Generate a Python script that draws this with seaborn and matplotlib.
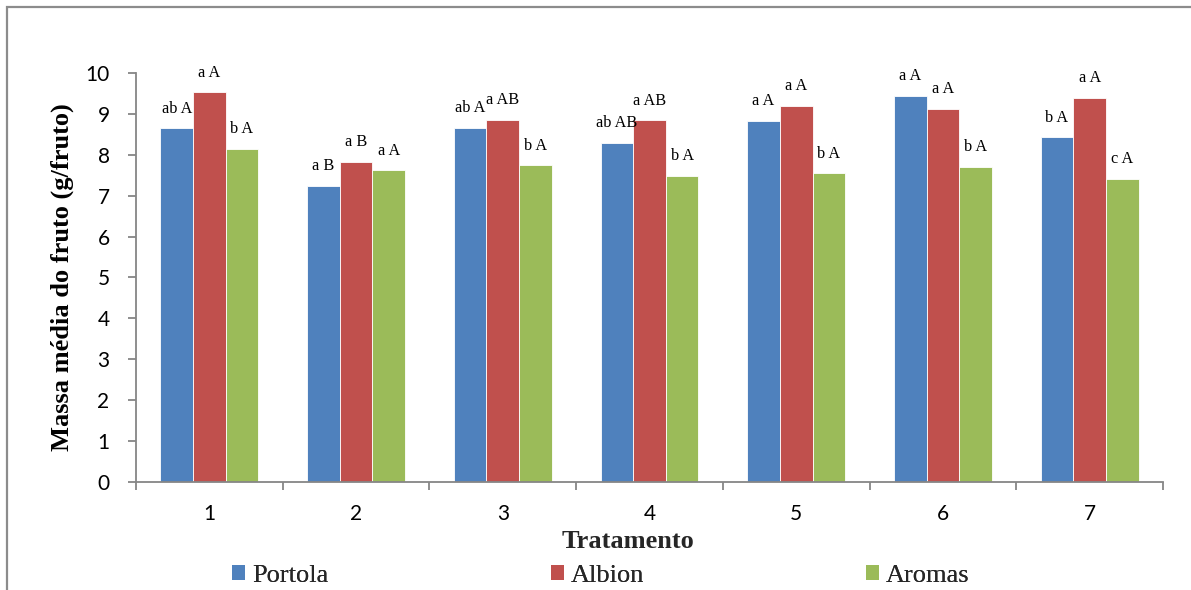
import numpy as np
import pandas as pd
import matplotlib
matplotlib.use("Agg")
import matplotlib.pyplot as plt
from matplotlib.patches import Rectangle
import seaborn as sns

# Average fruit mass (g/fruit) per treatment and cultivar
tratamentos = ["1", "2", "3", "4", "5", "6", "7"]
cultivares = ["Portola", "Albion", "Aromas"]
portola = [8.65, 7.24, 8.66, 8.29, 8.83, 9.44, 8.43]
albion = [9.53, 7.83, 8.85, 8.84, 9.20, 9.12, 9.39]
aromas = [8.14, 7.62, 7.74, 7.48, 7.55, 7.70, 7.41]

# Significance letters printed above each bar
letras_portola = ["ab A", "a B", "ab A", "ab AB", "a A", "a A", "b A"]
letras_albion = ["a A", "a B", "a AB", "a AB", "a A", "a A", "a A"]
letras_aromas = ["b A", "a A", "b A", "b A", "b A", "b A", "c A"]

cores = ["#4F81BD", "#C0504D", "#9BBB59"]

df = pd.DataFrame({
    "Tratamento": tratamentos * 3,
    "Cultivar": [c for c in cultivares for _ in tratamentos],
    "Massa": portola + albion + aromas,
})

sns.set_theme(style="white")
plt.rcParams["font.family"] = ["DejaVu Sans"]

fig = plt.figure(figsize=(11.91, 5.90), dpi=100)
ax = fig.add_axes([0.1142, 0.1831, 0.8623, 0.6932])

sns.barplot(data=df, x="Tratamento", y="Massa", hue="Cultivar",
            order=tratamentos, hue_order=cultivares, palette=cores,
            width=0.667, saturation=1, errorbar=None, ax=ax,
            edgecolor="white", linewidth=0.6, legend=False)

ax.set_ylim(0, 10)
ax.set_xlim(-0.5, len(tratamentos) - 0.5)
ax.set_yticks(range(0, 11))

eixo = "#868686"
for s in ["top", "right"]:
    ax.spines[s].set_visible(False)
for s in ["left", "bottom"]:
    ax.spines[s].set_color(eixo)
    ax.spines[s].set_linewidth(1.3)

tick_font = "Lato"
ax.tick_params(axis="y", which="major", length=6, width=1.3, color=eixo,
               direction="out", left=True, labelsize=15, pad=13)
for lbl in ax.get_yticklabels():
    lbl.set_fontfamily(tick_font)
    lbl.set_color("black")

# Category ticks on boundaries, labels centered under groups
ax.set_xticks(np.arange(-0.5, len(tratamentos), 1.0))
ax.set_xticklabels([])
ax.tick_params(axis="x", which="major", length=6, width=1.3, color=eixo,
               direction="out", bottom=True)
ax.set_xticks(np.arange(len(tratamentos)), minor=True)
ax.set_xticklabels(tratamentos, minor=True, fontsize=15,
                   fontfamily=tick_font, color="black")
ax.tick_params(axis="x", which="minor", length=0, pad=16)

serif = "Liberation Serif"
ax.set_xlabel("")
ax.set_ylabel("Massa média do fruto (g/fruto)", fontfamily=serif,
              fontweight="bold", fontsize=19, color="black")
ax.yaxis.set_label_coords(-0.0604, 0.5)

# Letters above each bar
for cont, letras in zip(ax.containers, [letras_portola, letras_albion, letras_aromas]):
    for barra, txt in zip(cont, letras):
        ax.text(barra.get_x() + barra.get_width() / 2, barra.get_height() + 0.48,
                txt, ha="center", va="center", fontsize=11.7,
                fontfamily=serif, color="black")

fig.text(0.527, 0.083, "Tratamento", ha="center", va="center",
         fontfamily=serif, fontweight="bold", fontsize=19)

# Legend entries spread across the bottom
for nome, cor, x0 in zip(cultivares, cores, [232, 551, 866]):
    h = Rectangle((0, 0), 1, 1, facecolor=cor, edgecolor="none")
    leg = fig.legend([h], [nome], loc="center left",
                     bbox_to_anchor=(x0 / 1191, 1 - 576 / 590),
                     frameon=False, borderpad=0, borderaxespad=0,
                     handlelength=0.5, handleheight=0.5, handletextpad=0.25,
                     prop={"family": serif, "size": 19})
    fig.add_artist(leg)

# Outer chart frame
fig.patches.append(Rectangle((7 / 1191, -0.05), 1.2, 1.05 - 7 / 590,
                             transform=fig.transFigure, fill=False,
                             edgecolor="#8C8C8C", linewidth=1.6))

fig.savefig("out.png", dpi=100)
